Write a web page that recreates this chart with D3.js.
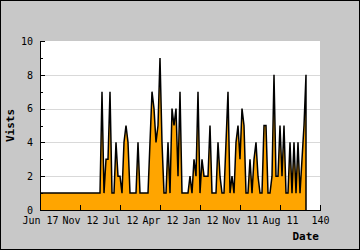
<!DOCTYPE html>
<html>
<head>
<meta charset="utf-8">
<script src="https://cdn.jsdelivr.net/npm/d3@7"></script>
<style>
  html, body { margin: 0; padding: 0; background: #c8c8c8; }
  svg { display: block; }
  .axis text { font-family: "DejaVu Sans Mono", monospace; font-size: 10px; fill: #000; }
  .axis path, .axis line { stroke: #000; shape-rendering: crispEdges; }
</style>
</head>
<body>
<div id="chart"></div>
<script>
// visits per sample, oldest label on the left
const visits = [
  1,1,1,1,1,1,1,1,1,1, 1,1,1,1,1,1,1,1,1,1, 1,1,1,1,1,1,1,1,1,1, 1,
  7,1,3,3,7,1,1,4,2,2,1,4,5,4,1,1,1,1,4,1,1,1,1,1,
  4,7,6,4,5,9,4,1,1,4,1,6,5,6,2,7,1,1,1,1,
  2,1,3,2,7,1,3,2,2,2,5,1,1,1,4,2,1,1,4,7,
  1,2,1,4,5,3,6,5,1,1,3,1,3,4,2,1,1,5,5,1,
  1,2,8,2,2,5,2,5,1,1,4,1,4,1,4,1,3,5,8
];
const xTicks = [0, 20, 40, 60, 80, 100, 120, 140];
const xTickLabels = ["Jun 17", "Nov 12", "Jul 12", "Apr 12", "Jan 12", "Nov 11", "Aug 11", "140"];
const yTicks = [0, 1, 2, 3, 4, 5, 6, 7, 8, 9, 10];
const yGrid = [2, 4, 6, 8];

const W = 360, H = 250;
const margin = {top: 41, right: 40, bottom: 40, left: 40};
const plotW = W - margin.left - margin.right;
const plotH = H - margin.top - margin.bottom;

const svg = d3.select("#chart").append("svg")
  .attr("width", W)
  .attr("height", H);

// outer frame
svg.append("rect")
  .attr("x", 0.5).attr("y", 0.5)
  .attr("width", W - 1).attr("height", H - 1)
  .attr("fill", "#c8c8c8")
  .attr("stroke", "#000");

const x = d3.scaleLinear().domain([0, 140]).range([0, plotW]);
const y = d3.scaleLinear().domain([0, 10]).range([plotH, 0]);

const g = svg.append("g")
  .attr("transform", "translate(" + margin.left + "," + margin.top + ")");

g.append("rect")
  .attr("width", plotW).attr("height", plotH)
  .attr("fill", "#fff");

// grid
g.selectAll(".grid")
  .data(yGrid)
  .enter().append("line")
    .attr("x1", 0).attr("x2", plotW)
    .attr("y1", d => Math.round(y(d)) + 0.5)
    .attr("y2", d => Math.round(y(d)) + 0.5)
    .attr("stroke", "#d9d9d9");

const data = visits.map((v, i) => [i, v]);

const area = d3.area()
  .x(d => x(d[0]))
  .y0(y(0))
  .y1(d => y(d[1]));

g.append("path")
  .datum(data)
  .attr("d", area)
  .attr("fill", "#ffa500");

const last = data[data.length - 1];
const line = d3.line()
  .x(d => x(d[0]))
  .y(d => y(d[1]));

g.append("path")
  .datum(data.concat([[last[0], 0]]))
  .attr("d", line)
  .attr("fill", "none")
  .attr("stroke", "#000")
  .attr("stroke-width", 1.5)
  .attr("stroke-linejoin", "miter");

// x axis
const xAxis = g.append("g")
  .attr("class", "axis")
  .attr("transform", "translate(0," + plotH + ")")
  .call(d3.axisBottom(x)
    .tickValues(xTicks)
    .tickFormat((d, i) => xTickLabels[i])
    .tickSizeInner(-5)
    .tickSizeOuter(0)
    .tickPadding(7));

// y axis
const yAxis = g.append("g")
  .attr("class", "axis")
  .call(d3.axisLeft(y)
    .tickValues(yTicks)
    .tickFormat(d => d % 2 === 0 ? d : "")
    .tickSizeInner(-3)
    .tickSizeOuter(0)
    .tickPadding(7));
yAxis.selectAll(".tick line")
  .attr("x2", d => d % 2 === 0 ? 5 : 3);

// axis titles
svg.append("text")
  .attr("text-anchor", "middle")
  .attr("transform", "translate(14," + (margin.top + plotH / 2) + ") rotate(-90)")
  .style("font-family", "'DejaVu Sans Mono', monospace")
  .style("font-size", "11px")
  .style("font-weight", "bold")
  .text("Vists");

svg.append("text")
  .attr("text-anchor", "end")
  .attr("x", margin.left + plotW - 1)
  .attr("y", 240)
  .style("font-family", "'DejaVu Sans Mono', monospace")
  .style("font-size", "11px")
  .style("font-weight", "bold")
  .text("Date");
</script>
</body>
</html>
